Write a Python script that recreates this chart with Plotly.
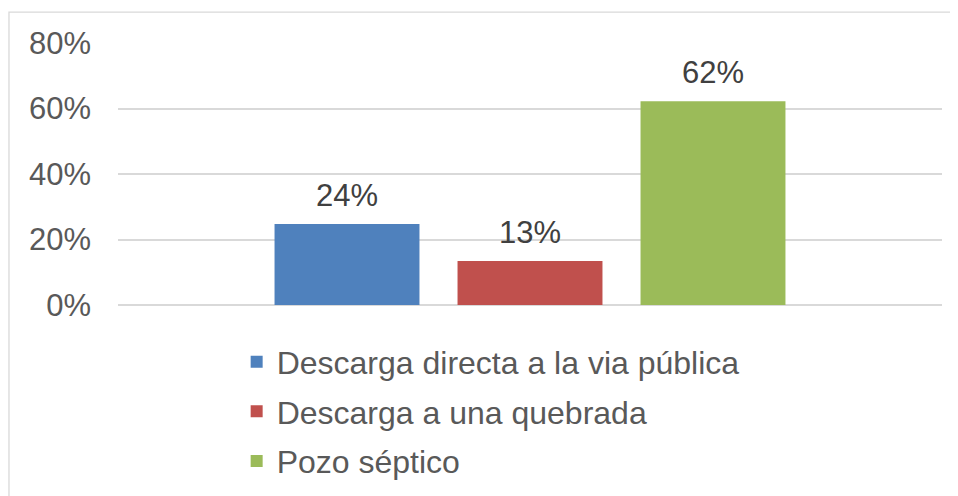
import plotly.graph_objects as go

categories = ["Descarga directa a la via pública", "Descarga a una quebrada", "Pozo séptico"]
values = [0.247, 0.134, 0.622]
labels = ["24%", "13%", "62%"]
colors = ["#4F81BD", "#C0504D", "#9BBB59"]
y_ticks = [0, 0.2, 0.4, 0.6, 0.8]

FONT = "Liberation Sans, Arial, sans-serif"
GRAY = "#595959"

fig = go.Figure()
for i, (name, v, c) in enumerate(zip(categories, values, colors)):
    fig.add_trace(go.Bar(
        x=[i], y=[v], name=name, marker=dict(color=c, line=dict(width=0)),
        width=0.792, legendgroup=f"g{i}", hoverinfo="skip",
    ))
    fig.add_annotation(x=i, y=v, text=labels[i], showarrow=False,
                       yanchor="bottom", yshift=9,
                       font=dict(family=FONT, size=31, color="#404040"))

fig.add_shape(type="rect", xref="paper", yref="paper",
              x0=-0.1323, x1=1.03, y0=-0.75, y1=1.118,
              line=dict(color="#D9D9D9", width=1.3), fillcolor="rgba(0,0,0,0)", layer="below")

fig.update_layout(
    width=950, height=488,
    margin=dict(l=110, r=16, t=35, b=191, autoexpand=False),
    paper_bgcolor="white", plot_bgcolor="white",
    barmode="overlay",
    showlegend=True,
    legend=dict(orientation="v", x=0.144, xanchor="left",
                yref="container", y=0.331, yanchor="top",
                font=dict(family=FONT, size=32, color=GRAY),
                tracegroupgap=5, itemwidth=30, bgcolor="rgba(0,0,0,0)"),
    xaxis=dict(range=[-1.2514, 3.2514], showticklabels=False, showgrid=False,
               zeroline=False, showline=False, ticks=""),
    yaxis=dict(range=[0, 0.8], tickvals=y_ticks, tickformat=".0%",
               showgrid=True, gridcolor="#D9D9D9", gridwidth=1.5,
               zeroline=True, zerolinecolor="#D9D9D9", zerolinewidth=1.5,
               showline=False, ticks="", ticklabelstandoff=26,
               tickfont=dict(family=FONT, size=31, color=GRAY)),
)

fig.write_html("out.html")
